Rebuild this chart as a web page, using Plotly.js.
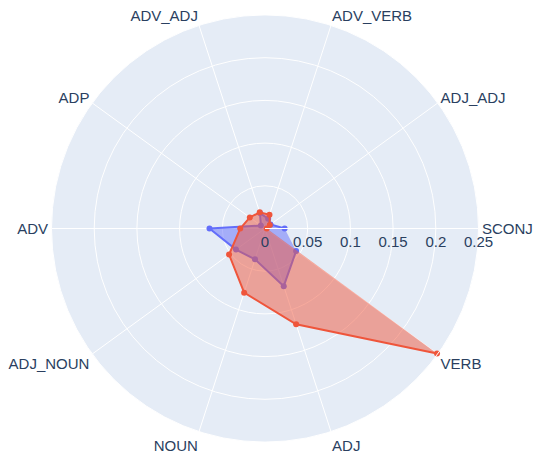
<!DOCTYPE html>
<html>
<head>
<meta charset="utf-8">
<script src="https://cdn.plot.ly/plotly-3.0.1.min.js"></script>
<style>html,body{margin:0;padding:0;background:#fff;}#chart{width:534px;height:461px;}</style>
</head>
<body>
<div id="chart"></div>
<script>
const categories = ["SCONJ", "ADJ_ADJ", "ADV_VERB", "ADV_ADJ", "ADP", "ADV", "ADJ_NOUN", "NOUN", "ADJ", "VERB"];
const blueValues = [0.023, 0.008, 0.012, 0.019, 0.006, 0.065, 0.042, 0.038, 0.071, 0.045];
const redValues = [0.002, 0.007, 0.017, 0.020, 0.022, 0.029, 0.052, 0.079, 0.118, 0.249];
const radialTicks = [0, 0.05, 0.1, 0.15, 0.2, 0.25];

const data = [
  {type: "scatterpolar", r: blueValues, theta: categories, fill: "toself", mode: "lines+markers",
   marker: {color: "#636efa"}, line: {color: "#636efa"}, name: "A"},
  {type: "scatterpolar", r: redValues, theta: categories, fill: "toself", mode: "lines+markers",
   marker: {color: "#EF553B"}, line: {color: "#EF553B"}, name: "B"}
];

const layout = {
  width: 534, height: 461,
  margin: {l: 0, r: 0, t: 0, b: 0},
  paper_bgcolor: "#fff",
  font: {family: "Liberation Sans, Arial, sans-serif", size: 15, color: "#2a3f5f"},
  showlegend: false,
  polar: {
    domain: {x: [51/534, 479/534], y: [1 - 442/461, 1 - 15/461]},
    bgcolor: "#E5ECF6",
    radialaxis: {range: [0, 0.25], tickvals: radialTicks, ticktext: radialTicks.map(String),
      gridcolor: "white", linecolor: "white", showline: true, ticks: ""},
    angularaxis: {direction: "counterclockwise", rotation: 0, gridcolor: "white", linecolor: "white", ticks: ""}
  }
};
Plotly.newPlot("chart", data, layout, {displayModeBar: false});
</script>
</body>
</html>
